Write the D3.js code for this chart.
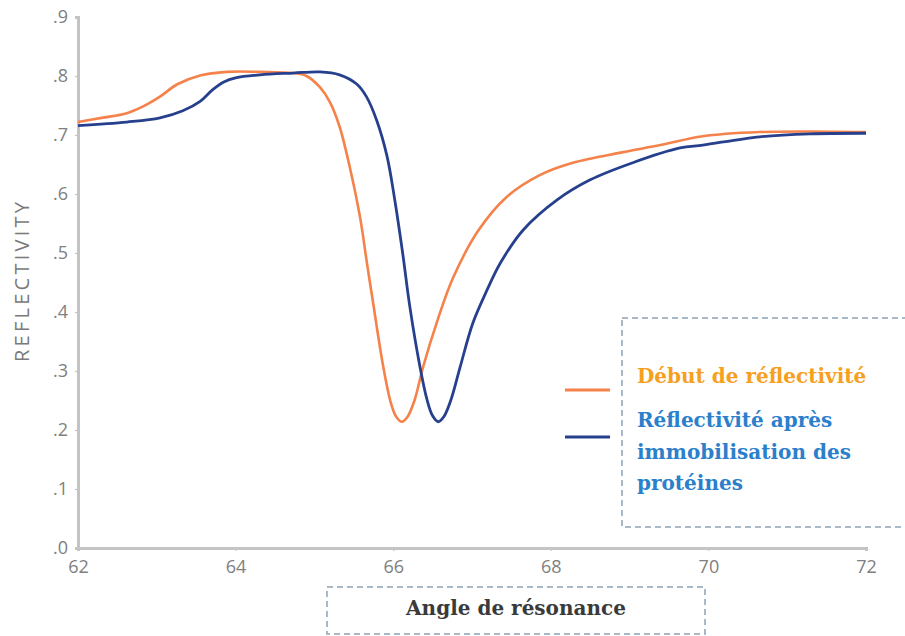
<!DOCTYPE html>
<html><head><meta charset="utf-8">
<script src="https://cdn.jsdelivr.net/npm/d3@7"></script>
<style>body{margin:0;background:#fff}svg{display:block}</style>
</head><body>
<svg id="c" width="905" height="636"></svg>
<script>
// Angle (deg) and reflectivity, "Début de réflectivité"
const anglesStart = [62.0,62.3,62.62,62.82,63.04,63.26,63.55,63.89,64.31,64.73,64.9,65.07,65.2,65.32,65.45,65.58,65.67,65.74,65.87,65.97,66.04,66.11,66.18,66.27,66.38,66.56,66.76,67.08,67.44,67.86,68.28,68.92,69.39,69.93,70.65,71.3,72.0];
const valuesStart = [0.722,0.729,0.737,0.748,0.765,0.786,0.801,0.807,0.807,0.805,0.800,0.781,0.755,0.714,0.645,0.560,0.480,0.420,0.310,0.246,0.222,0.214,0.222,0.250,0.307,0.385,0.458,0.538,0.595,0.632,0.653,0.671,0.683,0.698,0.705,0.706,0.705];
// "Réflectivité après immobilisation des protéines"
const anglesAfter = [62.0,62.62,63.04,63.33,63.55,63.71,63.85,64.0,64.31,64.73,65.07,65.32,65.54,65.66,65.79,65.92,66.02,66.12,66.21,66.34,66.43,66.5,66.57,66.64,66.73,66.85,67.01,67.19,67.36,67.65,68.08,68.5,69.04,69.64,69.93,70.65,71.29,72.0];
const valuesAfter = [0.716,0.722,0.729,0.741,0.757,0.777,0.790,0.797,0.802,0.805,0.807,0.802,0.786,0.765,0.725,0.665,0.590,0.500,0.410,0.307,0.251,0.224,0.214,0.222,0.250,0.307,0.381,0.437,0.483,0.539,0.590,0.624,0.653,0.678,0.683,0.697,0.702,0.703];
const xTicks = [62,64,66,68,70,72];
const yTicks = [0,0.1,0.2,0.3,0.4,0.5,0.6,0.7,0.8,0.9];
const seriesNames = ["Début de réflectivité","Réflectivité après immobilisation des protéines"];
const legendLines = [["Début de réflectivité"],["Réflectivité après","immobilisation des","protéines"]];
const xTitle = "Angle de résonance";
const yTitle = "REFLECTIVITY";

const svg = d3.select("#c");
const x = d3.scaleLinear().domain([62,72]).range([78,866]);
const y = d3.scaleLinear().domain([0,0.9]).range([548,17]);

const axisColor = "#c4c4c4", tickText = "#808080";

// axes
const gx = svg.append("g").attr("transform","translate(0,548)")
  .call(d3.axisBottom(x).tickValues(xTicks).tickSize(3).tickPadding(9).tickFormat(d3.format("d")));
const gy = svg.append("g").attr("transform","translate(78,0)")
  .call(d3.axisLeft(y).tickValues(yTicks).tickSize(3).tickPadding(7).tickFormat(d => "." + Math.round(d*10)));
[gx,gy].forEach(g=>{
  g.select(".domain").attr("stroke",axisColor).attr("stroke-width",3);
  g.selectAll(".tick line").attr("stroke",axisColor).attr("stroke-width",1.2);
  g.selectAll(".tick text").attr("fill",tickText).attr("font-family","'Open Sans', sans-serif").attr("font-size",18);
});

// lines
const line = d3.line().x(d=>x(d[0])).y(d=>y(d[1])).curve(d3.curveCatmullRom.alpha(0.5));
const dStart = anglesStart.map((a,i)=>[a,valuesStart[i]]);
const dAfter = anglesAfter.map((a,i)=>[a,valuesAfter[i]]);
const colors = ["#f4824a","#26408e"];
svg.append("path").datum(dStart).attr("d",line).attr("fill","none").attr("stroke",colors[0]).attr("stroke-width",2.6);
svg.append("path").datum(dAfter).attr("d",line).attr("fill","none").attr("stroke",colors[1]).attr("stroke-width",2.8);

// y title
svg.append("text").attr("transform","translate(29,282) rotate(-90)").attr("text-anchor","middle")
  .attr("font-family","'Open Sans', sans-serif").attr("font-size",20).attr("fill","#7a7a7a")
  .attr("textLength",160).attr("lengthAdjust","spacing").text(yTitle);

// x title box
const dash = "#8fa2b6";
svg.append("rect").attr("x",327).attr("y",587).attr("width",378).attr("height",47)
  .attr("fill","none").attr("stroke",dash).attr("stroke-width",1.5).attr("stroke-dasharray","6,4");
svg.append("text").attr("x",516).attr("y",615).attr("text-anchor","middle")
  .attr("font-family","'DejaVu Serif', serif").attr("font-weight","bold").attr("font-size",20).attr("fill","#3a3a3a").text(xTitle);

// legend
svg.append("rect").attr("x",622).attr("y",318).attr("width",300).attr("height",209)
  .attr("fill","none").attr("stroke",dash).attr("stroke-width",1.5).attr("stroke-dasharray","6,4");
const lineY = [390,437];
const textY = [[383],[427,459,490]];
const textColors = ["#f7a020","#2b7fcb"];
seriesNames.forEach((n,i)=>{
  svg.append("line").attr("x1",565).attr("x2",610).attr("y1",lineY[i]).attr("y2",lineY[i])
    .attr("stroke",colors[i]).attr("stroke-width",3);
  legendLines[i].forEach((t,j)=>{
    svg.append("text").attr("x",637).attr("y",textY[i][j])
      .attr("font-family","'DejaVu Serif', serif").attr("font-weight","bold").attr("font-size",20)
      .attr("fill",textColors[i]).text(t);
  });
});
</script>
</body></html>
